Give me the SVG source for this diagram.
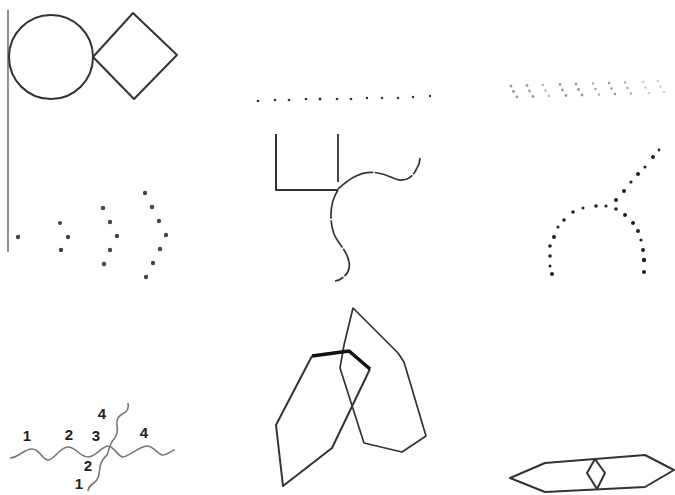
<svg xmlns="http://www.w3.org/2000/svg" width="675" height="495" viewBox="0 0 675 495">
<style>
.ln{fill:none;stroke:#333;stroke-width:2;stroke-linejoin:round}
.thin{fill:none;stroke:#333;stroke-width:1.7;stroke-linejoin:round}
.wave{fill:none;stroke:#777;stroke-width:1.6}
.dk{fill:#333}
.lbl{font-family:"Liberation Sans",Arial,sans-serif;font-size:15px;font-weight:bold;fill:#222;text-anchor:middle}
</style>
<rect width="675" height="495" fill="#fff"/>
<g id="axis"><line x1="8" y1="10" x2="8" y2="252" stroke="#555" stroke-width="1.3"/></g>
<g id="circle-diamond">
<circle cx="51" cy="57" r="42" class="ln"/>
<polygon points="93,57 133,13 177,55 134,99" class="ln"/>
</g>
<g id="dot-line" class="dk">
<circle cx="258" cy="101" r="1.3"/><circle cx="275" cy="100" r="1.3"/><circle cx="289" cy="100" r="1.3"/><circle cx="306" cy="99" r="1.3"/><circle cx="320" cy="99" r="1.5"/><circle cx="337" cy="99" r="1.3"/><circle cx="351" cy="99" r="1.3"/><circle cx="367" cy="98" r="1.2"/><circle cx="382" cy="98" r="1.2"/><circle cx="398" cy="98" r="1.2"/><circle cx="413" cy="97" r="1.2"/><circle cx="430" cy="96" r="1.2"/>
</g>
<g id="dot-groups">
<g fill="#999"><circle cx="511" cy="86" r="1.4"/><circle cx="513.5" cy="91.5" r="1.4"/><circle cx="517" cy="97" r="1.4"/></g>
<g fill="#999"><circle cx="527" cy="85.5" r="1.4"/><circle cx="529.5" cy="91" r="1.4"/><circle cx="533" cy="96.5" r="1.4"/></g>
<g fill="#bbb"><circle cx="543" cy="85" r="1.3"/><circle cx="545.5" cy="90.5" r="1.3"/><circle cx="549" cy="96" r="1.3"/></g>
<g fill="#999"><circle cx="560" cy="84.5" r="1.4"/><circle cx="562.5" cy="90" r="1.4"/><circle cx="566" cy="95.5" r="1.4"/></g>
<g fill="#999"><circle cx="576" cy="84" r="1.4"/><circle cx="578.5" cy="89.5" r="1.4"/><circle cx="582" cy="95" r="1.4"/></g>
<g fill="#aaa"><circle cx="593" cy="83.5" r="1.3"/><circle cx="595.5" cy="89" r="1.3"/><circle cx="599" cy="94.5" r="1.3"/></g>
<g fill="#999"><circle cx="609" cy="83" r="1.3"/><circle cx="611.5" cy="88.5" r="1.3"/><circle cx="615" cy="94" r="1.3"/></g>
<g fill="#aaa"><circle cx="625" cy="82.5" r="1.3"/><circle cx="627.5" cy="88" r="1.3"/><circle cx="631" cy="93.5" r="1.3"/></g>
<g fill="#ccc"><circle cx="643" cy="82" r="1.3"/><circle cx="645.5" cy="87.5" r="1.3"/><circle cx="649" cy="93" r="1.3"/></g>
<g fill="#ccc"><circle cx="658" cy="81" r="1.3"/><circle cx="660.5" cy="86.5" r="1.3"/><circle cx="664" cy="92" r="1.3"/></g>
</g>
<g id="chevron-dots" fill="#444">
<circle cx="18" cy="237" r="2.2"/>
<circle cx="60" cy="223" r="2"/><circle cx="68" cy="237" r="2.2"/><circle cx="61" cy="250" r="2.2"/>
<circle cx="103" cy="208" r="2.2"/><circle cx="110" cy="222" r="2.2"/><circle cx="117" cy="236" r="2.2"/><circle cx="110" cy="250" r="2.2"/><circle cx="104" cy="264" r="2.2"/>
<circle cx="145" cy="193" r="2.2"/><circle cx="152" cy="207" r="2.2"/><circle cx="159" cy="221" r="2.2"/><circle cx="166" cy="235" r="2.2"/><circle cx="160" cy="249" r="2.2"/><circle cx="153" cy="263" r="2.2"/><circle cx="146" cy="277" r="2.2"/>
</g>
<g id="junction-curves">
<polyline points="276,134 276,190 338,190" class="ln"/>
<line x1="338" y1="134" x2="338" y2="182" stroke="#333" stroke-width="1.8"/>
<path d="M338,189 C350,178 362,170 378,173 C392,175 396,183 407,179 C414,176 416,170 419,164 L420,158" class="thin" stroke-dasharray="40,1.5"/>
<path d="M338,190 C330,202 329,220 334,234 C338,244 347,250 349,262 C351,272 343,280 335,281" class="thin" stroke-dasharray="30,1.5"/>
</g>
<g id="arch-dots" fill="#222">
<circle cx="659" cy="150" r="1.4"/><circle cx="653" cy="157" r="2"/><circle cx="645" cy="167" r="1.6"/><circle cx="638" cy="174" r="2"/><circle cx="631" cy="182" r="1.6"/><circle cx="624" cy="191" r="2"/><circle cx="616" cy="200" r="2"/>
<circle cx="616" cy="209" r="1.8"/><circle cx="606" cy="206" r="1.6"/><circle cx="596" cy="206" r="1.8"/><circle cx="583" cy="208" r="1.5"/><circle cx="573" cy="212" r="1.8"/><circle cx="564" cy="220" r="1.8"/><circle cx="558" cy="227" r="1.5"/><circle cx="554" cy="237" r="2"/><circle cx="550" cy="246" r="1.8"/><circle cx="550" cy="256" r="1.8"/><circle cx="550" cy="266" r="1.5"/><circle cx="552" cy="274" r="2"/>
<circle cx="625" cy="215" r="2"/><circle cx="633" cy="223" r="2"/><circle cx="638" cy="231" r="2"/><circle cx="641" cy="240" r="1.6"/><circle cx="643" cy="250" r="2"/><circle cx="644" cy="260" r="2.2"/><circle cx="644" cy="272" r="2"/>
</g>
<g id="polygons">
<polygon points="353,308 398,353 404,362 426,436 402,452 364,443 340,368 344,345" class="thin" stroke="#555"/>
<polyline points="370,369 332,448 283,486 276,425 312,356" class="ln" stroke-width="1.8"/>
<polyline points="312,356 349,351 370,369" fill="none" stroke="#111" stroke-width="3.5" stroke-linejoin="round"/>
</g>
<g id="waves">
<path d="M10,458 C18,458 24,449 32,449 S42,460 48,460 S60,447 68,447 S80,457 88,457 S102,446 108,446 S118,457 123,457 S140,446 147,446 S158,455 163,455 S171,450 175,450" class="wave"/>
<path d="M128,403 C129,408 128,411 124,413 C118,416 116,420 117,425 C118,430 118,434 114,439 C110,443 109,450 107,455 C104,458 101,460 100,467 C99,472 100,478 95,482 C91,485 88,487 88,491" class="wave"/>
<text class="lbl" x="27" y="441">1</text>
<text class="lbl" x="69" y="440">2</text>
<text class="lbl" x="96" y="441">3</text>
<text class="lbl" x="102" y="419">4</text>
<text class="lbl" x="144" y="438">4</text>
<text class="lbl" x="88" y="471">2</text>
<text class="lbl" x="79" y="489">1</text>
</g>
<g id="hexagon">
<polygon points="510,478 545,463 645,455 674,470 645,487 545,492" class="ln" stroke-width="1.6"/>
<polygon points="595,459 605,473 597,489 587,473" class="ln" stroke-width="1.6"/>
</g>
</svg>
